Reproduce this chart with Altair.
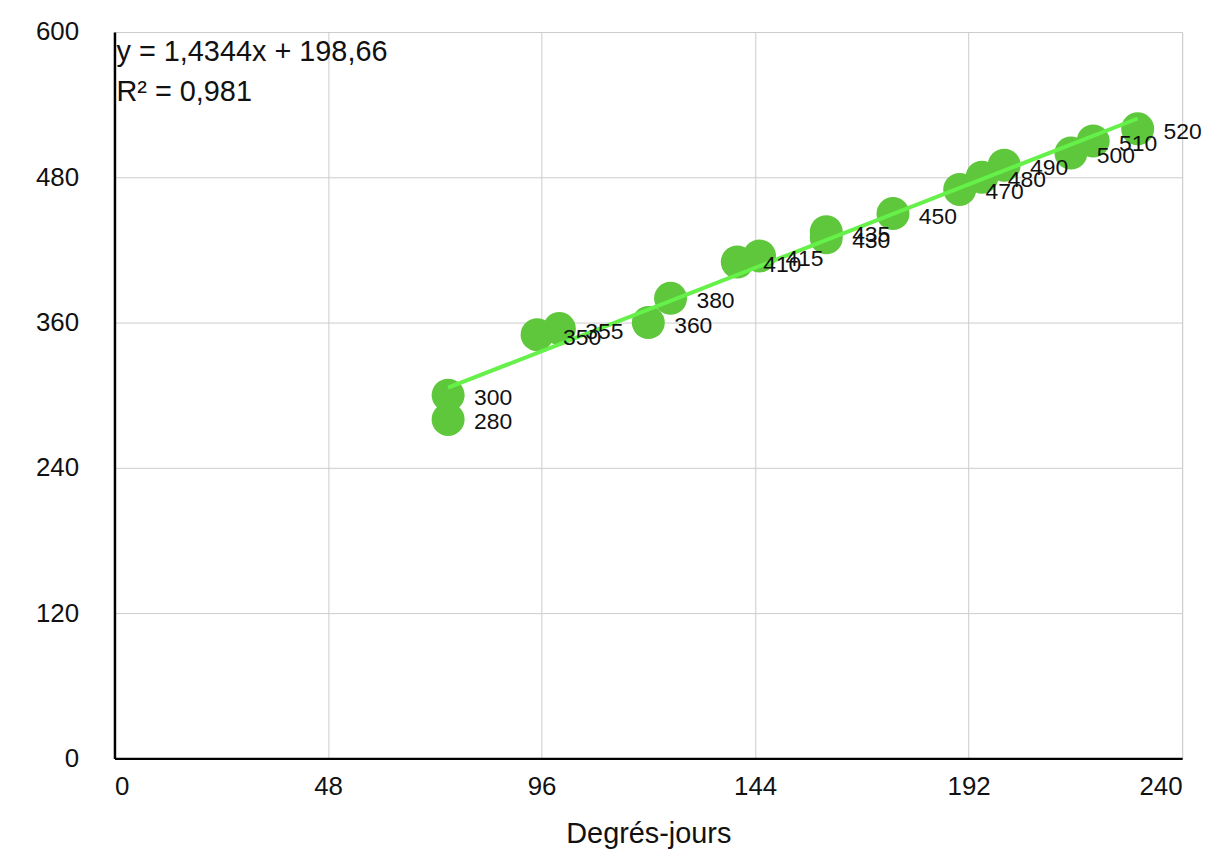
import altair as alt
import pandas as pd

degres_jours = [75, 75, 95, 100, 120, 125, 140, 145, 160, 160, 175, 190, 195, 200, 215, 220, 230]
valeurs = [280, 300, 350, 355, 360, 380, 410, 415, 430, 435, 450, 470, 480, 490, 500, 510, 520]
x_ticks = [0, 48, 96, 144, 192, 240]
y_ticks = [0, 120, 240, 360, 480, 600]
equation = ["y = 1,4344x + 198,66", "R² = 0,981"]

df = pd.DataFrame({"x": degres_jours, "y": valeurs})
FONT = "Liberation Sans"

xs = alt.Scale(domain=[0, 240], nice=False, zero=True)
ys = alt.Scale(domain=[0, 600], nice=False, zero=True)

base = alt.Chart(df)

points = base.mark_circle(size=1100, opacity=1, color="#5ec73c").encode(
    x=alt.X("x:Q", scale=xs, title="Degrés-jours",
            axis=alt.Axis(values=x_ticks, labelFontSize=26, titleFontSize=29,
                          labelPadding=15, titlePadding=21, ticks=False,
                          domainColor="black", domainWidth=2.5,
                          gridColor="#cccccc", gridWidth=1,
                          labelFont=FONT, titleFont=FONT, labelColor="#111",
                          titleColor="#111", titleFontWeight="normal")),
    y=alt.Y("y:Q", scale=ys, title=None,
            axis=alt.Axis(values=y_ticks, labelFontSize=26, labelPadding=36,
                          ticks=False, domainColor="black", domainWidth=2.5,
                          gridColor="#cccccc", gridWidth=1, labelFont=FONT,
                          labelColor="#111")),
)

trend = base.transform_regression("x", "y").mark_line(
    color="#66f04a", strokeWidth=4
).encode(x=alt.X("x:Q", scale=xs), y=alt.Y("y:Q", scale=ys))

labels = base.mark_text(align="left", baseline="middle", dx=26, dy=3,
                        fontSize=23, font=FONT, color="#111").encode(
    x=alt.X("x:Q", scale=xs), y=alt.Y("y:Q", scale=ys), text="y:Q"
)

eq_df = pd.DataFrame({"t1": [equation[0]], "t2": [equation[1]]})
eq1 = alt.Chart(eq_df).mark_text(align="left", baseline="middle", fontSize=29,
                                 font=FONT, color="#111").encode(
    x=alt.value(2), y=alt.value(20), text="t1:N"
)
eq2 = alt.Chart(eq_df).mark_text(align="left", baseline="middle", fontSize=29,
                                 font=FONT, color="#111").encode(
    x=alt.value(2), y=alt.value(60), text="t2:N"
)

chart = alt.layer(points, trend, labels, eq1, eq2).properties(
    width=1073, height=730,
    autosize=alt.AutoSizeParams(type="none"),
    padding={"left": 107, "top": 22, "right": 30, "bottom": 100},
).configure_view(stroke=None).configure(background="white")

chart.save("out.html", embed_options={"renderer": "svg", "actions": False})
